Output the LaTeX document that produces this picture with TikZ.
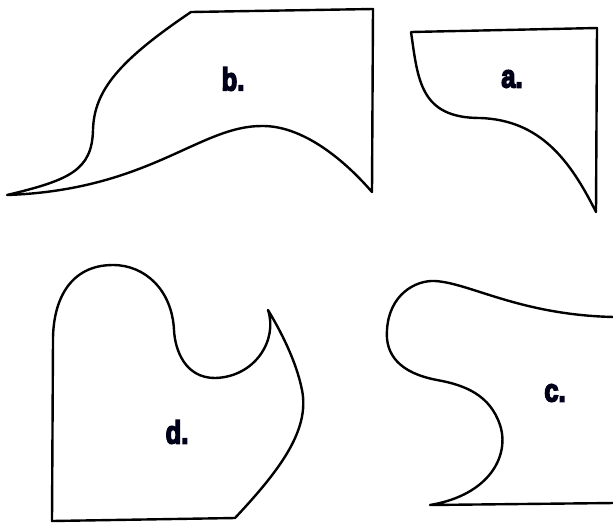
\documentclass[tikz,border=0pt]{standalone}
\usepackage{fontspec}
\newfontfamily\lblfont{Liberation Sans}[FakeBold=5]
\tikzset{
  outline/.style={draw=black, line width=2.4pt, line join=round, line cap=round},
  lbl/.style={font=\lblfont\bfseries\fontsize{32}{32}\selectfont, inner sep=0pt, text=black!90!blue}
}
\newcommand{\squeeze}[1]{\scalebox{0.8}[1]{#1}}
\begin{document}
\begin{tikzpicture}[x=1pt,y=-1pt]
\useasboundingbox (0,0) rectangle (613,523);
% shape b
\draw[outline] (191,12) -- (373,9) -- (372,192)
  .. controls (340,155) and (300,126) .. (263,126)
  .. controls (200,125) and (150,190) .. (7,195)
  .. controls (70,180) and (92,170) .. (93,130)
  .. controls (94,90) and (120,60) .. (191,12)
  -- cycle;
\node[lbl] (lb) at (233,79) {\squeeze{b.}};
% shape a
\draw[outline] (411,32) -- (597,28) -- (596,212)
  .. controls (570,160) and (540,120) .. (480,118)
  .. controls (420,118) and (418,80) .. (411,32);
\node[lbl] (la) at (512,79) {\squeeze{a.}};
% shape d
\draw[outline] (52,521) -- (235,518)
  .. controls (280,470) and (310,430) .. (302,390)
  .. controls (296,360) and (280,330) .. (268,310)
  .. controls (278,340) and (255,377) .. (215,378)
  .. controls (185,378) and (175,350) .. (174,330)
  .. controls (172,290) and (145,265) .. (113,265)
  .. controls (70,265) and (53,300) .. (53,340)
  -- cycle;
\node[lbl] (ld) at (177,432) {\squeeze{d.}};
% shape c
\draw[outline] (614,503) -- (430,505)
  .. controls (490,495) and (510,455) .. (500,425)
  .. controls (490,395) and (465,385) .. (437,380)
  .. controls (400,373) and (385,355) .. (387,330)
  .. controls (389,295) and (415,280) .. (435,281)
  .. controls (470,283) and (520,315) .. (614,317);
\node[lbl] (lc) at (555,393) {\squeeze{c.}};
\end{tikzpicture}
\end{document}
